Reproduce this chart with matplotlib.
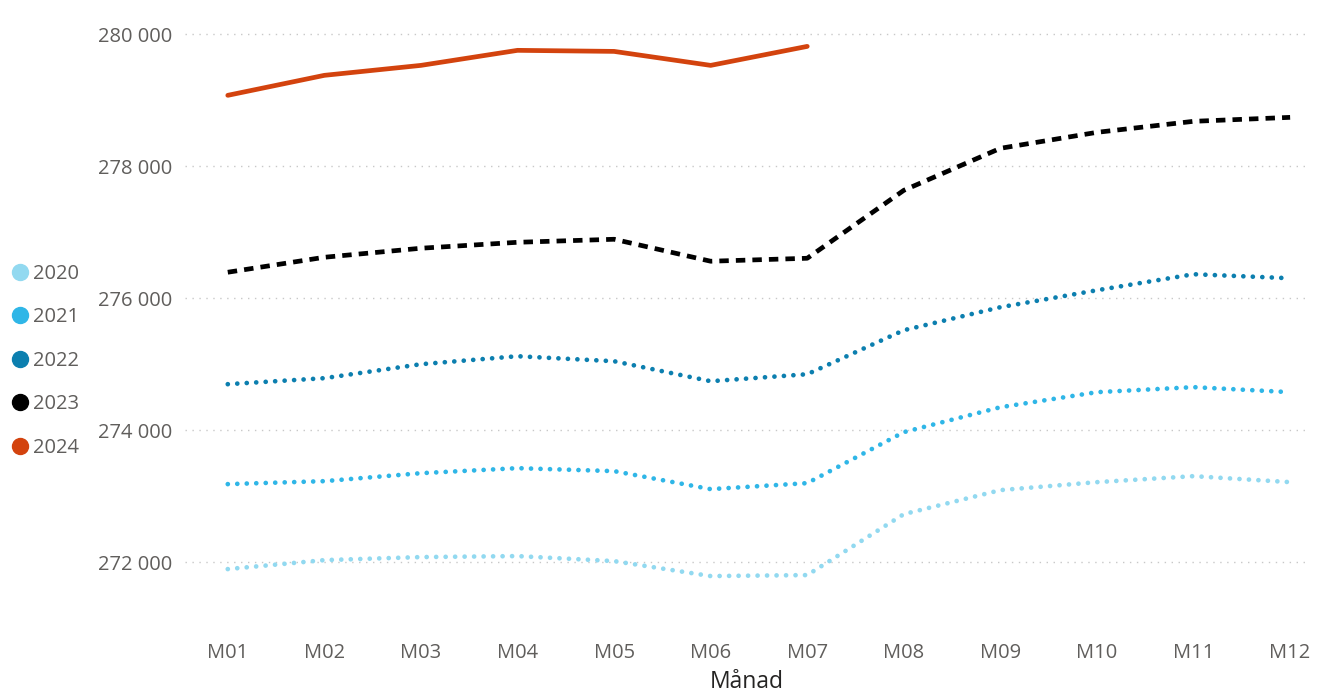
import matplotlib.pyplot as plt
from matplotlib.lines import Line2D
from matplotlib.ticker import FuncFormatter

months = ["M01", "M02", "M03", "M04", "M05", "M06", "M07", "M08", "M09", "M10", "M11", "M12"]

y2020 = [271894, 272030, 272076, 272091, 272015, 271788, 271803, 272727, 273091, 273212, 273303, 273212]
y2021 = [273182, 273227, 273348, 273424, 273379, 273106, 273197, 273970, 274348, 274576, 274652, 274576]
y2022 = [274697, 274788, 275000, 275121, 275045, 274742, 274848, 275515, 275864, 276121, 276364, 276303]
y2023 = [276394, 276621, 276758, 276848, 276894, 276561, 276606, 277636, 278273, 278515, 278682, 278742]
y2024 = [279076, 279379, 279530, 279758, 279742, 279530, 279818]

years = ["2020", "2021", "2022", "2023", "2024"]
colors = ["#92D9F0", "#2FB6E7", "#0C7FAF", "#000000", "#D3430E"]

plt.rcParams['font.family'] = ['Open Sans', 'DejaVu Sans']

fig = plt.figure(figsize=(13.2, 6.93), dpi=100)
ax = fig.add_axes([0.14, 0.098, 0.852, 0.88])

dot = (0, (0.01, 2.0))
x = list(range(12))
ax.plot(x, y2020, color=colors[0], lw=3.4, linestyle=dot, dash_capstyle='round')
ax.plot(x, y2021, color=colors[1], lw=3.4, linestyle=dot, dash_capstyle='round')
ax.plot(x, y2022, color=colors[2], lw=3.4, linestyle=dot, dash_capstyle='round')
ax.plot(x, y2023, color=colors[3], lw=3.4, linestyle=(0, (2.0, 1.5)))
ax.plot(x[:len(y2024)], y2024, color=colors[4], lw=3.4, solid_capstyle='round')

ax.set_xlim(-0.445, 11.2)
ax.set_ylim(271045, 280290)
ax.set_xticks(x)
ax.set_xticklabels(months)
ax.set_yticks([272000, 274000, 276000, 278000, 280000])
ax.yaxis.set_major_formatter(FuncFormatter(lambda v, p: f"{int(v):,}".replace(",", " ")))
ax.tick_params(axis='both', length=0, labelsize=14.5, labelcolor="#605E5C")
ax.tick_params(axis='y', pad=9)
ax.tick_params(axis='x', pad=13)
ax.grid(axis='y', color="#C8C8C8", linestyle=(0, (1, 4)), lw=1)
ax.set_axisbelow(True)
for s in ax.spines.values():
    s.set_visible(False)
ax.set_xlabel("Månad", fontsize=16.5, color="#252423", labelpad=5)

handles = [Line2D([], [], linestyle='none', marker='o', markersize=11.5,
                  color=c) for c in colors]
fig.legend(handles, years, loc='upper left', bbox_to_anchor=(0.0, 0.631),
           frameon=False, fontsize=14.5, labelcolor="#605E5C", handletextpad=0.05,
           handlelength=1.2, labelspacing=1.17, borderaxespad=0)

fig.savefig("out.png", dpi=100)
